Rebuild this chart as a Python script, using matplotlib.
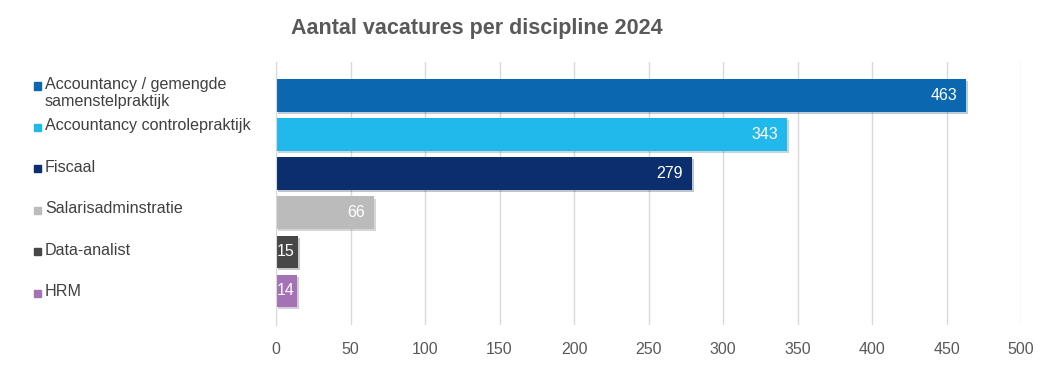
import matplotlib.pyplot as plt
import matplotlib.patheffects as pe
from matplotlib.patches import Rectangle

plt.rcParams['font.family'] = ['Liberation Sans', 'DejaVu Sans']

disciplines = ['Accountancy / gemengde\nsamenstelpraktijk', 'Accountancy controlepraktijk',
               'Fiscaal', 'Salarisadminstratie', 'Data-analist', 'HRM']
vacatures = [463, 343, 279, 66, 15, 14]
kleuren = ['#0B67B0', '#21B9EC', '#0B2E6F', '#BBBBBB', '#474747', '#A572B6']
ticks = [0, 50, 100, 150, 200, 250, 300, 350, 400, 450, 500]

fig = plt.figure(figsize=(10.56, 3.66), dpi=100)
ax = fig.add_axes([0.2614, 0.112, 0.7055, 0.7194])

shadow = [pe.SimplePatchShadow(offset=(1.5, -1.5), alpha=0.25, rho=0.5), pe.Normal()]
for i, (v, c) in enumerate(zip(vacatures, kleuren)):
    b = ax.barh(i, v, height=0.83, color=c, zorder=3)
    b[0].set_path_effects(shadow)
    if v < 30:
        # label does not fit: keep it inside the bar starting at the axis
        ax.annotate(str(v), (0, i), xytext=(0.5, 0), textcoords='offset points',
                    ha='left', va='center', color='white', fontsize=11.5, zorder=4)
    else:
        ax.annotate(str(v), (v, i), xytext=(-6.5, 0), textcoords='offset points',
                    ha='right', va='center', color='white', fontsize=11.5, zorder=4)

ax.set_xlim(0, 500)
ax.set_ylim(5.87, -0.86)
ax.set_xticks(ticks)
ax.set_yticks([])
ax.tick_params(axis='x', length=0, labelsize=11.5, colors='#595959', pad=12)
ax.grid(axis='x', color='#D9D9D9', linewidth=1, zorder=0)
for s in ['top', 'right', 'bottom']:
    ax.spines[s].set_visible(False)
ax.spines['left'].set_color('#D9D9D9')
ax.spines['left'].set_zorder(5)

fig.text(0.452, 0.922, 'Aantal vacatures per discipline 2024', ha='center', va='center',
         fontsize=15.5, fontweight='bold', color='#595959')

# legend on the left
for i, (lab, c) in enumerate(zip(disciplines, kleuren)):
    y = 86 + i * 41.4
    fig.patches.append(Rectangle((34 / 1056, 1 - (y + 3.5) / 366), 7 / 1056, 7 / 366,
                                 transform=fig.transFigure, color=c))
    fig.text(45 / 1056, 1 - (y - 9) / 366, lab, ha='left', va='top', fontsize=11.6,
             color='#404040', linespacing=1.15)

fig.savefig('out.png', dpi=100)
